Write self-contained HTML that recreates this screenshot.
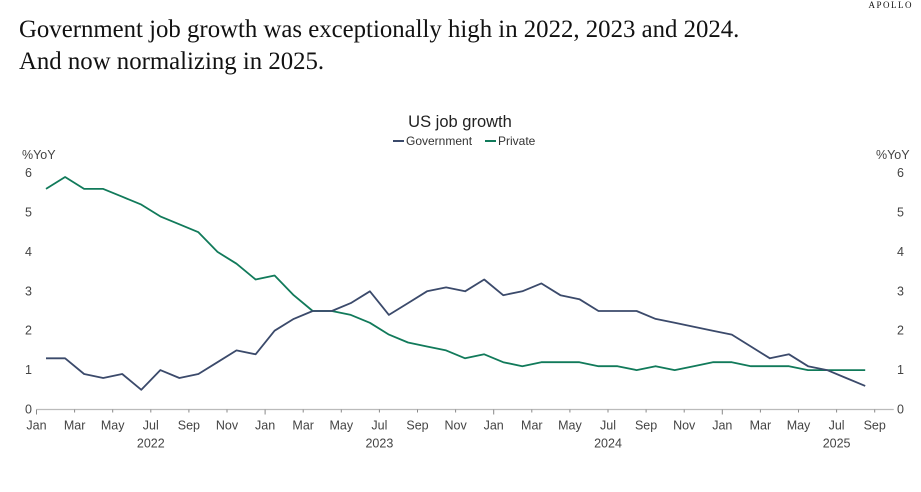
<!DOCTYPE html>
<html><head><meta charset="utf-8"><style>
body{margin:0;background:#fff;width:921px;height:492px;overflow:hidden;font-family:"Liberation Sans",sans-serif;}
#title{position:absolute;left:19px;top:14px;font-family:"Liberation Serif",serif;font-size:24.8px;line-height:32px;color:#111;}
#logo{position:absolute;right:8px;top:0px;font-family:"Liberation Serif",serif;font-size:9px;letter-spacing:1.5px;color:#111;}
svg{position:absolute;left:0;top:0;}
</style></head><body>
<div id="title">Government job growth was exceptionally high in 2022, 2023 and 2024.<br>And now normalizing in 2025.</div>
<div id="logo">APOLLO</div>
<svg id="chart" width="921" height="492"></svg>
<script>
const monthLabels=["Jan","Mar","May","Jul","Sep","Nov"];
const years=["2022","2023","2024","2025"];
const yTicks=[0,1,2,3,4,5,6];
const government=[1.3,1.3,0.9,0.8,0.9,0.5,1.0,0.8,0.9,1.2,1.5,1.4,
2.0,2.3,2.5,2.5,2.7,3.0,2.4,2.7,3.0,3.1,3.0,3.3,
2.9,3.0,3.2,2.9,2.8,2.5,2.5,2.5,2.3,2.2,2.1,2.0,
1.9,1.6,1.3,1.4,1.1,1.0,0.8,0.6];
const privateSeries=[5.6,5.9,5.6,5.6,5.4,5.2,4.9,4.7,4.5,4.0,3.7,3.3,
3.4,2.9,2.5,2.5,2.4,2.2,1.9,1.7,1.6,1.5,1.3,1.4,
1.2,1.1,1.2,1.2,1.2,1.1,1.1,1.0,1.1,1.0,1.1,1.2,
1.2,1.1,1.1,1.1,1.0,1.0,1.0,1.0];

const svg=document.getElementById('chart');
const NS='http://www.w3.org/2000/svg';
const x0=36.5,pxm=19.05,yb=409.5,pxu=39.4;
const xm=m=>x0+m*pxm;
const xp=i=>x0+(i+0.5)*pxm;
const y=v=>yb-v*pxu;
function mk(tag,attrs,text){const e=document.createElementNS(NS,tag);for(const k in attrs)e.setAttribute(k,attrs[k]);if(text!==undefined)e.textContent=text;svg.appendChild(e);return e;}
const tc='#444',fs=12.5;
let e;
e=mk('text',{x:460,y:127,'text-anchor':'middle','font-size':16.5,fill:'#222'},'US job growth');


e=mk('line',{x1:393,y1:141,x2:404,y2:141,stroke:'#3b4a6b','stroke-width':2});


e=mk('text',{x:406,y:145,'font-size':12,fill:'#333'},'Government');


e=mk('line',{x1:485,y1:141,x2:496,y2:141,stroke:'#117a5a','stroke-width':2});


e=mk('text',{x:498,y:145,'font-size':12,fill:'#333'},'Private');


e=mk('text',{x:22,y:159,'font-size':fs,fill:tc},'%YoY');


e=mk('text',{x:876,y:159,'font-size':fs,fill:tc},'%YoY');


yTicks.forEach(v=>{
  e=mk('text',{x:25,y:y(v)+4,'font-size':fs,fill:tc},String(v));
  
  
  e=mk('text',{x:897,y:y(v)+4,'font-size':fs,fill:tc},String(v));
  
  
});
e=mk('line',{x1:x0,y1:yb,x2:xm(45),y2:yb,stroke:'#bbb','stroke-width':1.2});


for(let m=0;m<=44;m+=2){
  const big=m%12===0;
  e=mk('line',{x1:xm(m),y1:yb,x2:xm(m),y2:yb+(big?5:3),stroke:'#888','stroke-width':1});
  
  
  e=mk('text',{x:xm(m),y:yb+20,'font-size':fs,fill:tc,'text-anchor':'middle'},monthLabels[(m%12)/2]);
  
  
}
years.forEach((yr,i)=>{
  e=mk('text',{x:xm(i*12+6),y:yb+38,'font-size':fs,fill:tc,'text-anchor':'middle'},yr);
  
  
});
function line(data,col,name){
  const d=data.map((v,i)=>(i?'L':'M')+xp(i).toFixed(1)+','+y(v).toFixed(1)).join('');
  const p=mk('path',{d:d,fill:'none',stroke:col,'stroke-width':1.8,'stroke-linejoin':'round'});
  
  
}
line(privateSeries,'#117a5a','private-line');
line(government,'#3b4a6b','government-line');
</script>
</body></html>
